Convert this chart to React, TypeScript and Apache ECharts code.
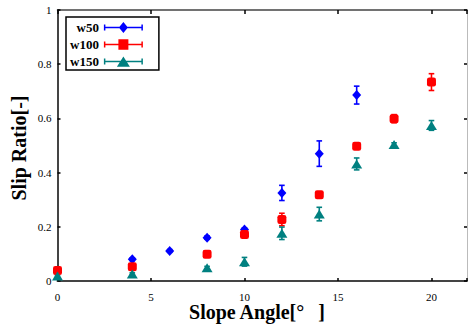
import React, { useEffect, useRef } from "react";
import * as echarts from "echarts";

const seriesNames = ["w50", "w100", "w150"];
const colors = ["#0000ff", "#ff0000", "#008080"];

const w50X = [4, 6, 8, 10, 12, 14, 16];
const w50Y = [0.08, 0.111, 0.16, 0.19, 0.325, 0.47, 0.686];
const w50Err = [0.005, 0.005, 0.006, 0.006, 0.028, 0.047, 0.033];

const w100X = [0, 4, 8, 10, 12, 14, 16, 18, 20];
const w100Y = [0.039, 0.053, 0.099, 0.172, 0.227, 0.318, 0.497, 0.599, 0.734];
const w100Err = [0.005, 0.006, 0.006, 0.008, 0.023, 0.008, 0.006, 0.015, 0.031];

const w150X = [0, 4, 8, 10, 12, 14, 16, 18, 20];
const w150Y = [0.018, 0.026, 0.049, 0.071, 0.176, 0.247, 0.432, 0.504, 0.574];
const w150Err = [0.004, 0.004, 0.005, 0.016, 0.023, 0.025, 0.022, 0.006, 0.018];

const xTicks = [0, 5, 10, 15, 20];
const yTicks = [0, 0.2, 0.4, 0.6, 0.8, 1];

const xTitle = "Slope Angle[°\u2002\u2009]";
const yTitle = "Slip Ratio[-]";

const FONT = '"Liberation Serif", "Times New Roman", serif';

const corners = "M0,0L0.01,0L0,0.01Z M39,12L38.99,12L39,11.99Z ";
const lineCaps =
  "M0,5.25L39,5.25L39,6.75L0,6.75Z M0,3L1.5,3L1.5,9L0,9Z M37.5,3L39,3L39,9L37.5,9Z ";
const icons = [
  "path://" + corners + lineCaps + "M19.5,0.6L24,6L19.5,11.4L15,6Z",
  "path://" + corners + lineCaps + "M14.5,0.8L24.5,0.8L24.5,11.2L14.5,11.2Z",
  "path://" + corners + lineCaps + "M19.5,1L26,11.2L13,11.2Z",
];

function zip(xs: number[], ys: number[]) {
  return xs.map((x, i) => [x, ys[i]]);
}
function zip3(xs: number[], ys: number[], es: number[]) {
  return xs.map((x, i) => [x, ys[i], es[i]]);
}

function errRenderer(color: string) {
  return (_params: any, api: any) => {
    const x = api.value(0);
    const y = api.value(1);
    const e = api.value(2);
    const top = api.coord([x, y + e]);
    const bot = api.coord([x, y - e]);
    const hw = 2.8;
    const style = { stroke: color, lineWidth: 1.6 };
    return {
      type: "group",
      children: [
        { type: "line", shape: { x1: top[0], y1: top[1], x2: bot[0], y2: bot[1] }, style },
        { type: "line", shape: { x1: top[0] - hw, y1: top[1], x2: top[0] + hw, y2: top[1] }, style },
        { type: "line", shape: { x1: bot[0] - hw, y1: bot[1], x2: bot[0] + hw, y2: bot[1] }, style },
      ],
    };
  };
}

export default function App() {
  const ref = useRef<HTMLDivElement>(null);
  useEffect(() => {
    if (!ref.current) return;
    const chart = echarts.init(ref.current, undefined, { renderer: "svg" });
    const axisLabelStyle = { fontFamily: FONT, fontSize: 11, color: "#000" };
    const data = [
      { x: w50X, y: w50Y, e: w50Err, symbol: "diamond", size: [9, 10] },
      { x: w100X, y: w100Y, e: w100Err, symbol: "roundRect", size: [9, 9] },
      { x: w150X, y: w150Y, e: w150Err, symbol: "triangle", size: [11, 9] },
    ];
    const series: any[] = [];
    data.forEach((d, i) => {
      series.push({
        type: "custom",
        name: seriesNames[i] + "-err",
        xAxisIndex: 0,
        yAxisIndex: 0,
        renderItem: errRenderer(colors[i]),
        data: zip3(d.x, d.y, d.e),
        encode: { x: 0, y: 1 },
        z: 1,
        silent: true,
      });
    });
    data.forEach((d, i) => {
      series.push({
        type: "scatter",
        name: seriesNames[i],
        xAxisIndex: 0,
        yAxisIndex: 0,
        symbol: d.symbol,
        symbolSize: d.size,
        itemStyle: { color: colors[i], opacity: 1 },
        data: zip(d.x, d.y),
        z: 3,
      });
    });
    chart.setOption({
      animation: false,
      backgroundColor: "#fff",
      grid: { left: 57.5, top: 10, width: 411.5, height: 271, containLabel: false },
      legend: {
        orient: "vertical",
        align: "right",
        left: 66,
        top: 17,
        padding: [4, 16, 2, 4],
        itemWidth: 39,
        itemHeight: 12,
        itemGap: 4,
        borderColor: "#000",
        borderWidth: 1.5,
        backgroundColor: "#fff",
        selectedMode: false,
        textStyle: { fontFamily: FONT, fontWeight: "bold", fontSize: 13, color: "#000" },
        data: seriesNames.map((n, i) => ({ name: n, icon: icons[i] })),
      },
      xAxis: [
        {
          type: "value",
          position: "bottom",
          min: 0,
          max: 21.9,
          interval: 5,
          axisLine: { onZero: false, lineStyle: { color: "#444", width: 2 } },
          axisTick: { inside: true, length: 3, lineStyle: { color: "#000", width: 1.5 } },
          axisLabel: {
            ...axisLabelStyle,
            margin: 10,
            formatter: (v: number) => (xTicks.includes(v) ? String(v) : ""),
          },
          splitLine: { show: false },
        },
        {
          type: "value",
          position: "top",
          min: 0,
          max: 21.9,
          interval: 5,
          axisLine: { onZero: false, lineStyle: { color: "#444", width: 1.5 } },
          axisTick: { inside: true, length: 4, lineStyle: { color: "#000", width: 1.5 } },
          axisLabel: { show: false },
          splitLine: { show: false },
        },
      ],
      yAxis: [
        {
          type: "value",
          position: "left",
          min: 0,
          max: 1,
          interval: 0.2,
          axisLine: { onZero: false, lineStyle: { color: "#444", width: 2 } },
          axisTick: { inside: true, length: 3, lineStyle: { color: "#000", width: 1.5 } },
          axisLabel: {
            ...axisLabelStyle,
            margin: 6,
            padding: [6, 0, 0, 0],
            formatter: (v: number) => {
              const t = yTicks.find((k) => Math.abs(k - v) < 1e-6);
              return t === undefined ? "" : String(t);
            },
          },
          splitLine: { show: false },
        },
        {
          type: "value",
          position: "right",
          min: 0,
          max: 1,
          interval: 0.2,
          axisLine: { onZero: false, lineStyle: { color: "#bbb", width: 1 } },
          axisTick: { inside: true, length: 3, lineStyle: { color: "#000", width: 1.5 } },
          axisLabel: { show: false },
          splitLine: { show: false },
        },
      ],
      graphic: [
        {
          type: "text",
          x: 257,
          y: 312,
          style: {
            text: xTitle,
            fontFamily: FONT,
            fontWeight: "bold",
            fontSize: 20,
            fill: "#000",
            align: "center",
            verticalAlign: "middle",
          },
        },
        {
          type: "text",
          x: 19,
          y: 148,
          rotation: Math.PI / 2,
          style: {
            text: yTitle,
            fontFamily: FONT,
            fontWeight: "bold",
            fontSize: 20,
            fill: "#000",
            align: "center",
            verticalAlign: "middle",
          },
        },
      ],
      series,
    });
    return () => chart.dispose();
  }, []);
  return (
    <div
      ref={ref}
      style={{ position: "fixed", left: 0, top: 0, width: 470, height: 329, background: "#fff" }}
    />
  );
}
